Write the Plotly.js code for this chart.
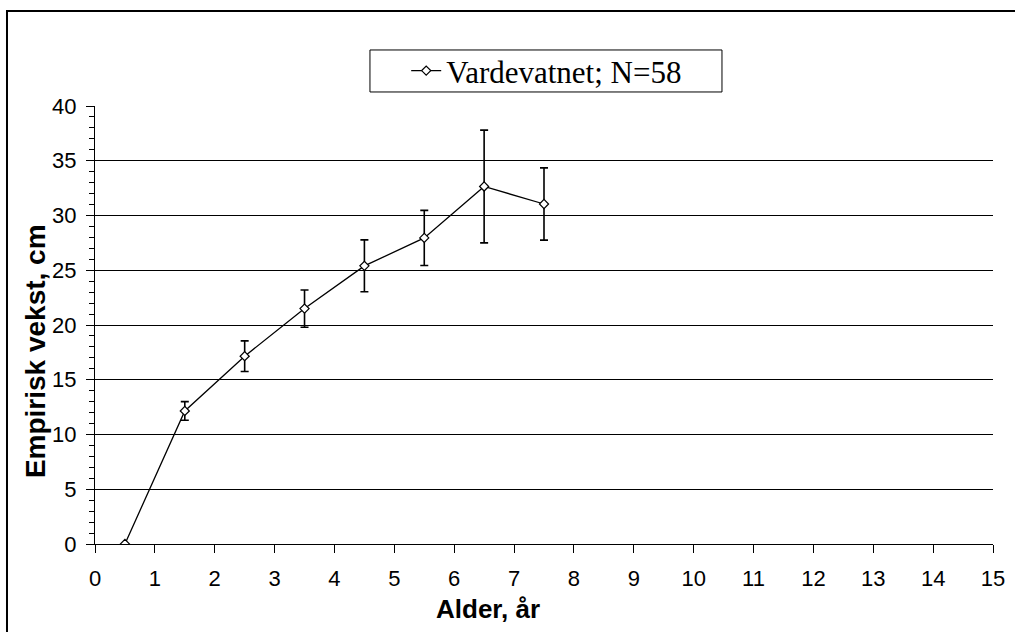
<!DOCTYPE html>
<html>
<head>
<meta charset="utf-8">
<script src="https://cdn.plot.ly/plotly-3.0.1.min.js"></script>
<style>html,body{margin:0;padding:0;background:#fff;}#chart{width:1015px;height:632px;}</style>
</head>
<body>
<div id="chart"></div>
<script>
const ages = [0.5, 1.5, 2.5, 3.5, 4.5, 5.5, 6.5, 7.5];
const growth = [0, 12.15, 17.15, 21.5, 25.4, 27.95, 32.65, 31.05];
const errPlusMinus = [0, 0.85, 1.4, 1.7, 2.37, 2.52, 5.15, 3.3];
const seriesName = 'Vardevatnet; N=58';
const xTitle = 'Alder, år';
const yTitle = 'Empirisk vekst, cm';

const trace = {
  x: ages, y: growth, type: 'scatter', mode: 'lines+markers', name: seriesName,
  line: {color: 'black', width: 1.3},
  marker: {symbol: 'diamond', size: 7, color: 'white', line: {color: 'black', width: 1.2}},
  error_y: {type: 'data', array: errPlusMinus, visible: true, color: 'black', thickness: 1.6, width: 4}
};

const layout = {
  width: 1015, height: 632,
  margin: {l: 95, r: 22, t: 106, b: 88},
  paper_bgcolor: 'white', plot_bgcolor: 'white',
  font: {family: '"Liberation Sans", Arial, sans-serif', color: 'black', size: 22},
  showlegend: true,
  legend: {x: 0.503, y: 1.08, xanchor: 'center', yanchor: 'middle', borderwidth: 0,
    bgcolor: 'rgba(0,0,0,0)', font: {family: '"Liberation Serif", "Times New Roman", serif', size: 31}},
  xaxis: {range: [0, 15], dtick: 1, tick0: 0, showgrid: false, zeroline: false, showline: true,
    linecolor: 'black', linewidth: 1, ticks: 'outside', ticklen: 8, tickcolor: 'black', tickwidth: 1,
    ticklabelstandoff: 7, tickfont: {size: 22}},
  yaxis: {range: [0, 40], dtick: 5, tick0: 0, showgrid: true, gridcolor: 'black', gridwidth: 1, zeroline: false,
    showline: true, linecolor: 'black', linewidth: 1, ticks: 'outside', ticklen: 8, tickcolor: 'black',
    ticklabelstandoff: 5, tickfont: {size: 22},
    minor: {dtick: 1, ticks: 'outside', ticklen: 5, tickcolor: 'black', showgrid: false}},
  annotations: [
    {text: '<b>' + xTitle + '</b>', xref: 'paper', yref: 'paper', x: 0.438, y: -0.149, xanchor: 'center', yanchor: 'middle', showarrow: false, font: {size: 26}},
    {text: '<b>' + yTitle + '</b>', xref: 'paper', yref: 'paper', x: -0.067, y: 0.44, xanchor: 'center', yanchor: 'middle', textangle: -90, showarrow: false, font: {size: 28}}
  ],
  shapes: [
    {type: 'rect', xref: 'paper', yref: 'paper', x0: -0.098, x1: 1.06, y0: -0.3, y1: 1.2169, line: {color: 'black', width: 2}, layer: 'below'},
    {type: 'rect', xref: 'paper', yref: 'paper', x0: 0.3062, x1: 0.6982, y0: 1.032, y1: 1.1279, line: {color: 'black', width: 1}, fillcolor: 'white', layer: 'below'}
  ]
};

Plotly.newPlot('chart', [trace], layout, {displayModeBar: false, staticPlot: true});
</script>
</body>
</html>
